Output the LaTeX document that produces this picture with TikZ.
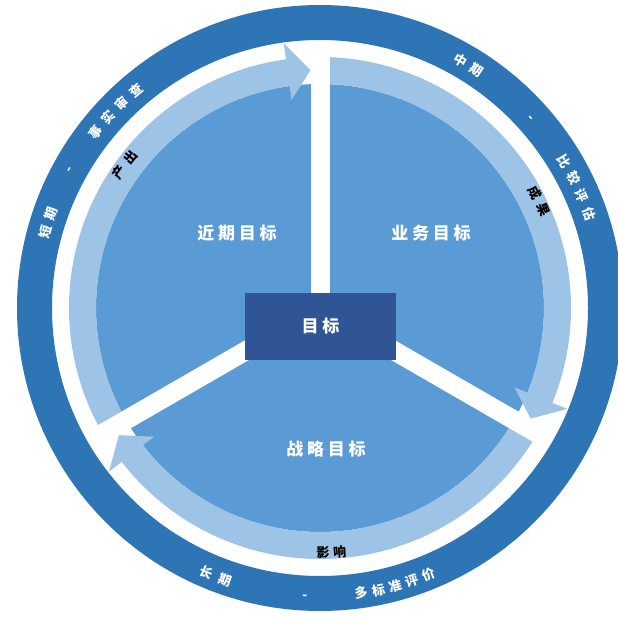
\documentclass[tikz,border=0pt]{standalone}
\usepackage{fontspec}
\newfontfamily\cjk{Noto Sans CJK SC}
\newfontfamily\cjksp[LetterSpace=22]{Noto Sans CJK SC}
\usetikzlibrary{calc}
\definecolor{ringblue}{HTML}{2E75B6}
\definecolor{midblue}{HTML}{5B9BD5}
\definecolor{lightblue}{HTML}{9DC3E6}
\definecolor{boxblue}{HTML}{2F5597}
% band with arrowhead: #1 start angle, #2 back of head, #3 tip angle
\newcommand\bandarrow[3]{%
  \fill[lightblue] ($(C)+(#1:251pt)$) arc[start angle=#1,end angle=#2,radius=251pt]
    -- ($(C)+(#2:267pt)$) -- ($(C)+(#3:238pt)$) -- ($(C)+(#2:210pt)$)
    -- ($(C)+(#2:224pt)$) arc[start angle=#2,end angle=#1,radius=224pt] -- cycle;}
% text along arc, clockwise (upper half): #1 style, #2 name, #3 start, #4 step, #5 radius, #6 chars
\newcommand\cwtext[6]{%
  \foreach \ch [count=\i from 0] in {#6} {%
    \pgfmathsetmacro\ang{#3-\i*#4}%
    \node[#1, rotate=\ang-90] (#2\i) at ($(C)+(\ang:#5pt)$) {\ch};}}
% text along arc, counterclockwise (lower half)
\newcommand\ccwtext[6]{%
  \foreach \ch [count=\i from 0] in {#6} {%
    \pgfmathsetmacro\ang{#3+\i*#4}%
    \node[#1, rotate=\ang+90] (#2\i) at ($(C)+(\ang:#5pt)$) {\ch};}}
\begin{document}
\begin{tikzpicture}[x=1pt,y=1pt,
  ringtxt/.style={text=white, inner sep=0pt, font=\cjk\bfseries\fontsize{13}{13}\selectfont},
  bandtxt/.style={text=black, inner sep=0pt, font=\cjk\bfseries\fontsize{13}{13}\selectfont},
  seclabel/.style={text=white, inner sep=0pt, font=\cjksp\bfseries\fontsize{17}{17}\selectfont},
  goalbox/.style={fill=boxblue, minimum width=151pt, minimum height=67pt, inner sep=0pt,
    text=white, font=\cjksp\bfseries\fontsize{17}{17}\selectfont}]
\useasboundingbox (0,0) rectangle (618,616);
\clip (0,0) rectangle (618,616);
\fill[white] (0,0) rectangle (618,616);
\coordinate (C) at (320,308);
\fill[midblue] (C) circle (224pt);
\bandarrow{210}{97.8}{92.3}
\bandarrow{90}{-22.2}{-27.7}
\bandarrow{330}{217.8}{212.3}
\foreach \a in {90,210,330}
  \fill[white, shift={(C)}, rotate=\a] (0,-9.5) rectangle (269,9.5);
\fill[ringblue, even odd rule] (C) circle (303pt) (C) circle (268pt);
\node[goalbox] (goal) at (320.5,289.5) {目标};
\node[seclabel] (near) at (237,383) {近期目标};
\node[seclabel] (biz) at (431,383) {业务目标};
\node[seclabel] (strat) at (326,167) {战略目标};
% outer ring texts
\cwtext{ringtxt}{sa}{164.5}{3.8}{285}{短,期}
\cwtext{ringtxt}{sd}{151}{1}{285}{-}
\cwtext{ringtxt}{sb}{142}{3.95}{285}{事,实,审,查}
\cwtext{ringtxt}{ma}{60.5}{3.9}{285}{中,期}
\cwtext{ringtxt}{md}{42}{1}{283}{-}
\cwtext{ringtxt}{mb}{31}{3.9}{285}{比,较,评,估}
\ccwtext{ringtxt}{la}{246.8}{3.9}{288}{长,期}
\ccwtext{ringtxt}{ld}{267}{1}{290}{-}
\ccwtext{ringtxt}{lb}{278.2}{3.5}{288}{多,标,准,评,价}
% band texts
\cwtext{bandtxt}{ba}{146}{4.6}{242}{产,出}
\cwtext{bandtxt}{bb}{28.2}{4.3}{244}{成,果}
\ccwtext{bandtxt}{bc}{270.7}{3.9}{245}{影,响}
\end{tikzpicture}
\end{document}
